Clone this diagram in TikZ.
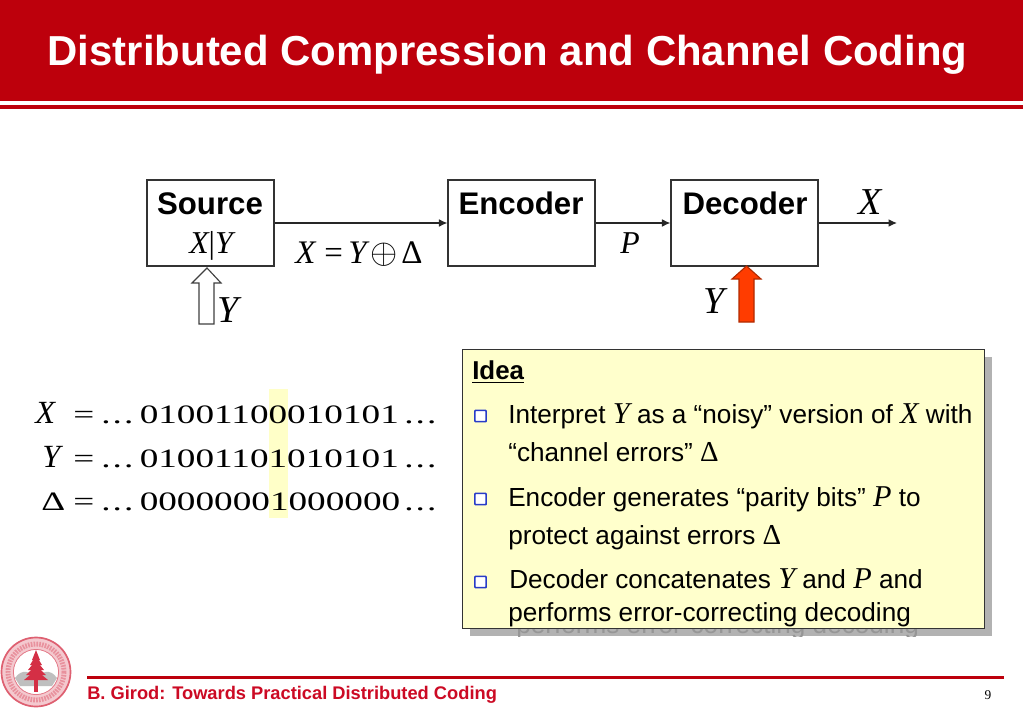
\documentclass[tikz,border=0pt]{standalone}
\usepackage{amsmath}
\usepackage{fontspec}
\setmainfont{Liberation Sans}
\newfontfamily\timesfont{Liberation Serif}
\newfontfamily\bitfont[FakeStretch=1.4]{Liberation Serif}
\usepackage{tikz}
\usetikzlibrary{arrows.meta, positioning, calc}
\definecolor{slidered}{RGB}{189,0,12}
\definecolor{footred}{RGB}{204,10,36}
\definecolor{notebg}{RGB}{255,255,204}
\definecolor{hilite}{RGB}{255,255,200}
\definecolor{shadowgray}{RGB}{178,178,178}
\definecolor{ghostgray}{RGB}{150,150,150}
\definecolor{arrowred}{RGB}{255,60,0}
\definecolor{bulletblue}{RGB}{40,60,200}
\newcommand{\mv}[1]{{\fontsize{21.5}{22}\timesfont\itshape #1}}
\newcommand{\mdelta}{{\fontsize{20.5}{22}\timesfont Δ}}
\newcommand{\bitdots}{.\kern1.5pt.\kern1.5pt.}
\tikzset{
    blockbox/.style={draw=black!80, line width=0.8pt, minimum height=2.15cm, inner sep=0pt},
    blocklabel/.style={font=\fontsize{22.2}{25}\selectfont\bfseries, inner sep=0pt, anchor=base},
    mathlabel/.style={font=\fontsize{27}{28}\timesfont\itshape, inner sep=0pt, anchor=base},
    eqnpart/.style={font=\fontsize{23.4}{25}\timesfont, inner sep=0pt, anchor=base west},
    link/.style={line width=0.85pt, draw=black!85, -{Latex[length=6pt,width=5.5pt]}},
    bitrow/.style={font=\fontsize{18.9}{24}\bitfont, inner sep=0pt, anchor=base west},
    notetext/.style={font=\fontsize{18.6}{20}\selectfont, inner sep=0pt, anchor=base west},
    bulletmark/.style={draw=bulletblue, fill=white, line width=1.2pt, rounded corners=0.5pt, minimum size=8pt, inner sep=0pt},
}
\begin{document}
\begin{tikzpicture}[x=0.025cm, y=-0.025cm]
    \useasboundingbox (0,0) rectangle (1023,708);
    \fill[white] (0,0) rectangle (1023,708);

    % Title band
    \fill[slidered] (0,0) rectangle (1023,101);
    \fill[slidered] (0,105) rectangle (1023,109);
    \node[font=\fontsize{29.8}{32}\selectfont\bfseries, text=white, inner sep=0pt, anchor=base] (title) at (507.5,66) {Distributed Compression and Channel Coding};

    % Blocks
    \node[blockbox, minimum width=3.175cm] (source) at (210.5,223) {};
    \node[blockbox, minimum width=3.675cm] (encoder) at (521.5,223) {};
    \node[blockbox, minimum width=3.675cm] (decoder) at (744.5,223) {};
    \coordinate (outx) at (897,223);
    \node[blocklabel] (srcname) at (210,215) {Source};
    \node[blocklabel] (encname) at (521,215) {Encoder};
    \node[blocklabel] (decname) at (745,215) {Decoder};
    \draw[link] (source) -- (encoder);
    \draw[link] (encoder) -- (decoder);
    \draw[link] (decoder) -- (outx);

    % Labels round the blocks
    \node[mathlabel, font=\fontsize{22.6}{24}\timesfont\itshape] (srccond) at (211,253) {X{\upshape|}Y};
    \node[eqnpart, font=\fontsize{23.4}{25}\timesfont\itshape] (eqx) at (295,263) {X};
    \node[eqnpart] (eqeq) at (324,263) {=};
    \node[eqnpart, font=\fontsize{23.4}{25}\timesfont\itshape] (eqy) at (348,263) {Y};
    \node[eqnpart, font=\fontsize{24}{25}\selectfont] (eqplus) at (370,263) {$\oplus$};
    \node[eqnpart] (eqd) at (401,263) {Δ};
    \node[mathlabel, font=\fontsize{22.6}{24}\timesfont\itshape] (plab) at (630,253) {P};
    \node[mathlabel] (xlab) at (870,215) {X};
    \node[mathlabel] (ylabl) at (228,322) {Y};
    \node[mathlabel] (ylabr) at (714,313) {Y};

    % Block arrows
    \draw[black!75, line width=0.8pt] (199,324) -- (199,283) -- (192,283) -- (207,268) -- (221,283) -- (214,283) -- (214,324) -- cycle;
    \draw[arrowred!70!black, fill=arrowred, line width=0.8pt] (739,322) -- (739,279) -- (732,279) -- (746.5,266) -- (761,279) -- (754,279) -- (754,322) -- cycle;

    % Bit strings
    \fill[hilite] (269,389) rectangle (288,518);
    \foreach \nm/\sy/\bx/\yy/\bits in {rowx/{\fontsize{23}{24}\timesfont\itshape X}/35/423/01001100010101, rowy/{\fontsize{23}{24}\timesfont\itshape Y}/42/467/01001101010101, rowd/Δ/41/510/00000001000000} {
        \node[bitrow] (\nm) at (\bx,\yy) {\sy};
        \node[bitrow] (\nm eq) at (73,\yy) {=};
        \node[bitrow] (\nm dl) at (101,\yy) {\bitdots};
        \node[bitrow] (\nm bits) at (139.5,\yy) {\bits};
        \node[bitrow] (\nm dr) at (404,\yy) {\bitdots};
    }

    % Idea box
    \fill[shadowgray] (470,357) rectangle (992,636);
    \begin{scope}
        \clip (470,628) rectangle (992,636);
        \node[notetext, text=ghostgray] (ghost) at (516,633) {performs error-correcting decoding};
    \end{scope}
    \draw[black!80, fill=notebg, line width=0.7pt] (462,349) rectangle (984,628);
    \node[font=\fontsize{18.4}{20}\selectfont\bfseries, inner sep=0pt, anchor=base west] (idea) at (472,379) {\underline{Idea}};

    \node[bulletmark] (bulleta) at (480.5,416) {};
    \node[bulletmark] (bulletb) at (480.5,499) {};
    \node[bulletmark] (bulletc) at (480.5,582) {};

    \node[notetext] (linea) at (508,423) {Interpret \mv{Y} as a “noisy” version of \mv{X} with};
    \node[notetext] (lineb) at (508,461) {“channel errors” \mdelta};
    \node[notetext] (linec) at (508,506) {Encoder generates “parity bits” \mv{P} to};
    \node[notetext] (lined) at (508,544) {protect against errors \mdelta};
    \node[notetext] (linee) at (509,588) {Decoder concatenates \mv{Y} and \mv{P} and};
    \node[notetext] (linef) at (508,621) {performs error-correcting decoding};

    % Footer
    \draw[slidered, line width=2.6pt] (87,677.5) -- (1004,677.5);
    \node[font=\fontsize{13}{15}\selectfont\bfseries, text=footred, inner sep=0pt, anchor=base west] (foot) at (87,699) {B. Girod: Towards Practical Distributed Coding};
    \node[font=\fontsize{9.5}{10}\timesfont, inner sep=0pt] (pageno) at (988,695) {9};

    % Seal
    \fill[footred!22] (36,672) circle (35);
    \draw[footred!65, line width=1.2pt] (36,672) circle (34.5);
    \draw[footred!45, line width=3.5pt, dash pattern=on 1.2pt off 0.8pt] (36,672) circle (28);
    \draw[footred!55, line width=0.7pt] (36,672) circle (22.5);
    \fill[white] (36,672) circle (22);
    \fill[black!25] (15,678) .. controls (22,668) and (30,672) .. (36,677) .. controls (42,672) and (50,668) .. (57,678) -- (52,686) -- (20,686) -- cycle;
    \foreach \ty/\tw in {650/4, 655/6, 660/8, 665/10, 670/12} {
        \fill[footred!85] (36,\ty) -- ++(\tw,10) -- ++(-2*\tw,0) -- cycle;
    }
    \fill[footred!85] (34,680) rectangle (38,692);
\end{tikzpicture}
\end{document}
